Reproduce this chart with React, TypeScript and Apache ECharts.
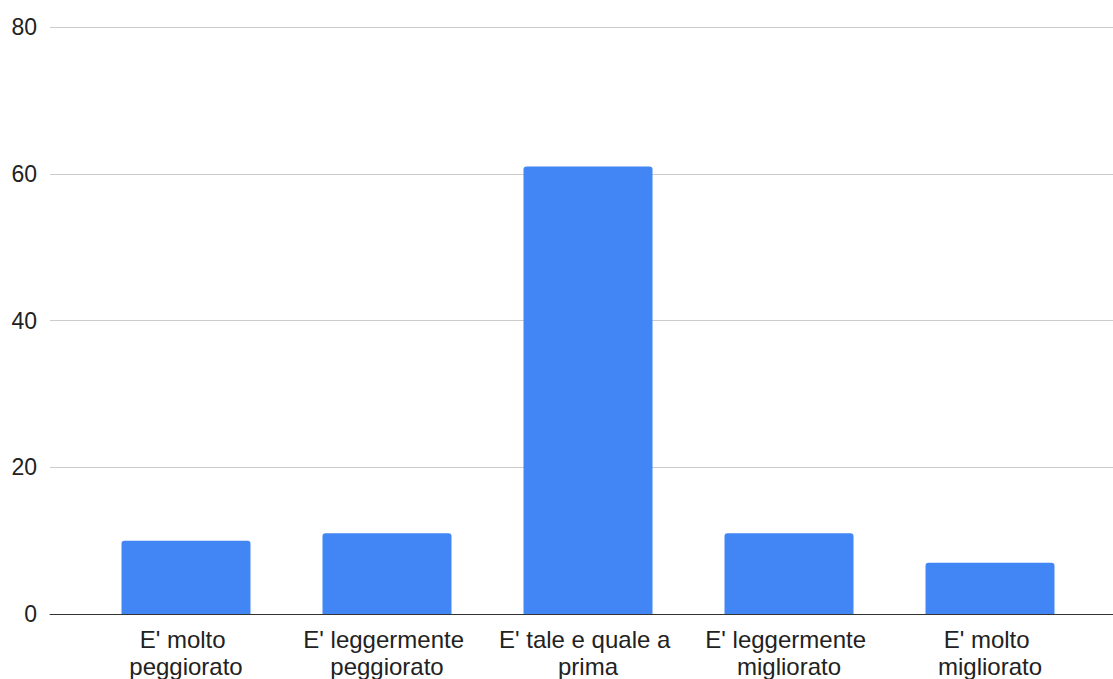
import React, { useEffect, useRef } from "react";
import * as echarts from "echarts";

const categories = [
  "E' molto peggiorato",
  "E' leggermente peggiorato",
  "E' tale e quale a prima",
  "E' leggermente migliorato",
  "E' molto migliorato",
];
const values = [10, 11, 61, 11, 7];
const yTicks = [0, 20, 40, 60, 80];

export default function App() {
  const ref = useRef<HTMLDivElement>(null);
  useEffect(() => {
    if (!ref.current) return;
    const chart = echarts.init(ref.current, null, { renderer: "svg" });
    const font = "'Liberation Sans', Arial, sans-serif";
    chart.setOption({
      animation: false,
      grid: [
        { left: 50, right: 0, top: 27, bottom: 65, outerBoundsMode: "none", containLabel: false },
        { left: 85.5, width: 1005, top: 27, bottom: 65, outerBoundsMode: "none", containLabel: false },
      ],
      xAxis: [
        {
          gridIndex: 0,
          type: "category",
          data: categories,
          axisLine: { show: true, lineStyle: { color: "#333333", width: 1 } },
          axisTick: { show: false },
          axisLabel: { show: false },
        },
        {
          gridIndex: 1,
          type: "category",
          data: categories,
          axisLine: { show: false },
          axisTick: { show: false },
          axisLabel: {
            color: "#222222",
            fontSize: 24,
            fontFamily: font,
            lineHeight: 27,
            margin: 12,
            width: 184,
            overflow: "break",
            interval: 0,
          },
        },
      ],
      yAxis: [
        {
          gridIndex: 0,
          type: "value",
          min: yTicks[0],
          max: yTicks[yTicks.length - 1],
          interval: 20,
          axisLine: { show: false },
          axisTick: { show: false },
          axisLabel: {
            color: "#222222",
            fontSize: 23,
            fontFamily: font,
            margin: 13,
          },
          splitLine: { lineStyle: { color: "#cccccc", width: 1 } },
        },
        {
          gridIndex: 1,
          type: "value",
          min: yTicks[0],
          max: yTicks[yTicks.length - 1],
          interval: 20,
          show: false,
          splitLine: { show: false },
        },
      ],
      series: [
        {
          type: "bar",
          xAxisIndex: 1,
          yAxisIndex: 1,
          data: values,
          barWidth: 129,
          itemStyle: { color: "#4285F4", borderRadius: [3, 3, 0, 0] },
        },
      ],
    });
    return () => chart.dispose();
  }, []);
  return <div ref={ref} style={{ width: 1113, height: 679, position: "absolute", left: 0, top: 0 }} />;
}
